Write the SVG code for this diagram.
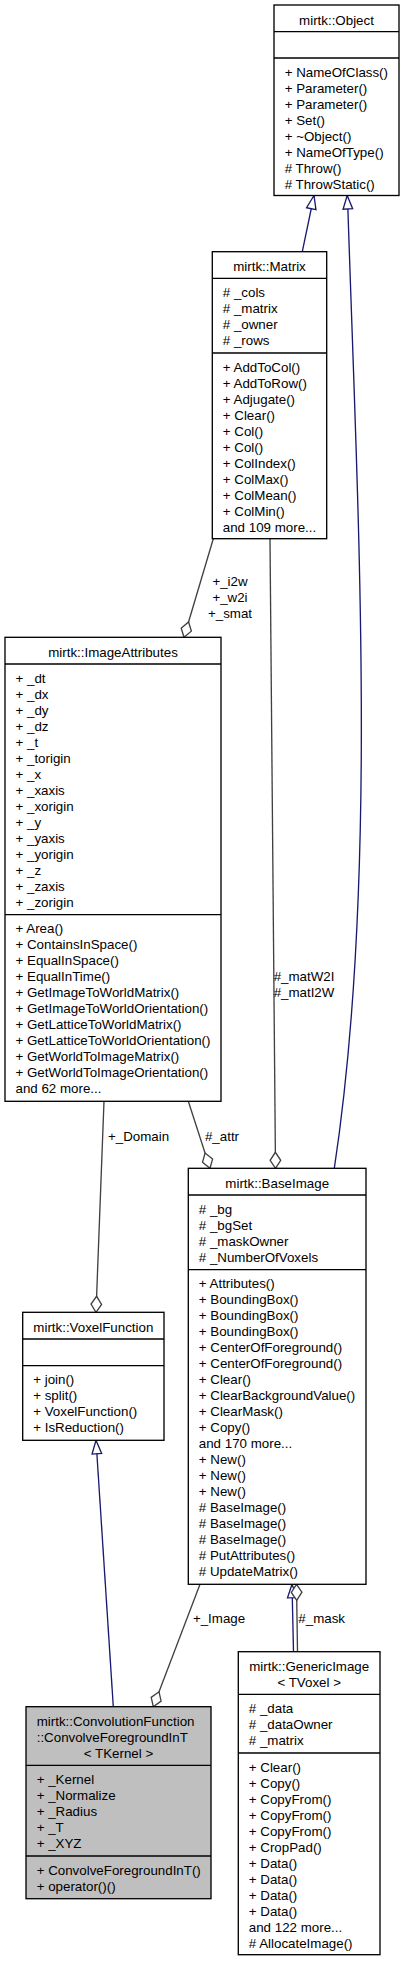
<svg xmlns="http://www.w3.org/2000/svg" width="404" height="1963" viewBox="0 0 404 1963">
<style>
text { font-family: "Liberation Sans", Arial, Helvetica, sans-serif; font-size: 13.33px; fill: #000; }
.c { text-anchor: middle; }
.box { fill: #fff; stroke: #000; stroke-width: 1.33; }
.focus { fill: #bfbfbf; }
.sep { stroke: #000; stroke-width: 1.33; }
.inh { fill: none; stroke: #191970; stroke-width: 1.33; marker-end: url(#tri); }
.agg { fill: none; stroke: #404040; stroke-width: 1.33; marker-end: url(#dia); }
</style>
<defs>
<marker id="tri" viewBox="-15 -7 16 14" refX="0" refY="0" markerWidth="16" markerHeight="14" markerUnits="userSpaceOnUse" orient="auto">
<path d="M0,0 L-13.5,-4.8 L-13.5,4.8 Z" fill="#fff" stroke="#191970" stroke-width="1.33"/>
</marker>
<marker id="dia" viewBox="-18 -7 19 14" refX="0" refY="0" markerWidth="19" markerHeight="14" markerUnits="userSpaceOnUse" orient="auto">
<path d="M0,0 L-8,-5.3 L-16,0 L-8,5.3 Z" fill="#fff" stroke="#404040" stroke-width="1.33"/>
</marker>
</defs>

<g id="connectors">
<path class="inh" d="M302.3,251.7 L314,195.5"/>
<path class="inh" d="M334.3,1168.3 C378,880 358,520 348,212 L347.2,195.5"/>
<path class="agg" d="M213.3,538.7 L184,637.3"/>
<path class="agg" d="M270,538.7 L275.5,1168.3"/>
<path class="agg" d="M188.3,1101.3 L210,1168.3"/>
<path class="agg" d="M104,1101.3 L96,1312.3"/>
<path class="inh" d="M113.3,1706.7 L96,1440.3"/>
<path class="agg" d="M200,1584.3 L153.3,1706.7"/>
<path class="inh" d="M293.5,1651.7 L292,1584.3"/>
<path class="agg" d="M297.5,1651.7 L296.5,1584.3"/>
<text class="c" x="230" y="586">+_i2w</text>
<text class="c" x="230" y="602">+_w2i</text>
<text class="c" x="230" y="618">+_smat</text>
<text class="c" x="304" y="981">#_matW2I</text>
<text class="c" x="304" y="997">#_matI2W</text>
<text class="c" x="222" y="1140.5">#_attr</text>
<text class="c" x="138.5" y="1140.5">+_Domain</text>
<text class="c" x="219" y="1622.5">+_Image</text>
<text class="c" x="321.7" y="1622.5">#_mask</text>
</g>

<g id="node-object">
<rect class="box" x="274" y="5" width="125" height="190.5"/>
<line class="sep" x1="274" y1="31.7" x2="399" y2="31.7"/>
<line class="sep" x1="274" y1="58" x2="399" y2="58"/>
<text class="c" x="336.5" y="24.5">mirtk::Object</text>
<text x="284.7" y="76.6">+ NameOfClass()</text>
<text x="284.7" y="92.6">+ Parameter()</text>
<text x="284.7" y="108.6">+ Parameter()</text>
<text x="284.7" y="124.6">+ Set()</text>
<text x="284.7" y="140.6">+ ~Object()</text>
<text x="284.7" y="156.6">+ NameOfType()</text>
<text x="284.7" y="172.6"># Throw()</text>
<text x="284.7" y="188.6"># ThrowStatic()</text>
</g>

<g id="node-matrix">
<rect class="box" x="212.3" y="251.7" width="114.4" height="287"/>
<line class="sep" x1="212.3" y1="278.3" x2="326.7" y2="278.3"/>
<line class="sep" x1="212.3" y1="353" x2="326.7" y2="353"/>
<text class="c" x="269.5" y="271">mirtk::Matrix</text>
<text x="222.8" y="296.9"># _cols</text>
<text x="222.8" y="312.9"># _matrix</text>
<text x="222.8" y="328.9"># _owner</text>
<text x="222.8" y="344.9"># _rows</text>
<text x="222.8" y="371.6">+ AddToCol()</text>
<text x="222.8" y="387.6">+ AddToRow()</text>
<text x="222.8" y="403.6">+ Adjugate()</text>
<text x="222.8" y="419.6">+ Clear()</text>
<text x="222.8" y="435.6">+ Col()</text>
<text x="222.8" y="451.6">+ Col()</text>
<text x="222.8" y="467.6">+ ColIndex()</text>
<text x="222.8" y="483.6">+ ColMax()</text>
<text x="222.8" y="499.6">+ ColMean()</text>
<text x="222.8" y="515.6">+ ColMin()</text>
<text x="222.8" y="531.6">and 109 more...</text>
</g>

<g id="node-imageattributes">
<rect class="box" x="5" y="637.3" width="216" height="464"/>
<line class="sep" x1="5" y1="664" x2="221" y2="664"/>
<line class="sep" x1="5" y1="914.7" x2="221" y2="914.7"/>
<text class="c" x="113" y="656.6">mirtk::ImageAttributes</text>
<text x="15.5" y="682.6">+ _dt</text>
<text x="15.5" y="698.6">+ _dx</text>
<text x="15.5" y="714.6">+ _dy</text>
<text x="15.5" y="730.6">+ _dz</text>
<text x="15.5" y="746.6">+ _t</text>
<text x="15.5" y="762.6">+ _torigin</text>
<text x="15.5" y="778.6">+ _x</text>
<text x="15.5" y="794.6">+ _xaxis</text>
<text x="15.5" y="810.6">+ _xorigin</text>
<text x="15.5" y="826.6">+ _y</text>
<text x="15.5" y="842.6">+ _yaxis</text>
<text x="15.5" y="858.6">+ _yorigin</text>
<text x="15.5" y="874.6">+ _z</text>
<text x="15.5" y="890.6">+ _zaxis</text>
<text x="15.5" y="906.6">+ _zorigin</text>
<text x="15.5" y="933.3">+ Area()</text>
<text x="15.5" y="949.3">+ ContainsInSpace()</text>
<text x="15.5" y="965.3">+ EqualInSpace()</text>
<text x="15.5" y="981.3">+ EqualInTime()</text>
<text x="15.5" y="997.3">+ GetImageToWorldMatrix()</text>
<text x="15.5" y="1013.3">+ GetImageToWorldOrientation()</text>
<text x="15.5" y="1029.3">+ GetLatticeToWorldMatrix()</text>
<text x="15.5" y="1045.3">+ GetLatticeToWorldOrientation()</text>
<text x="15.5" y="1061.3">+ GetWorldToImageMatrix()</text>
<text x="15.5" y="1077.3">+ GetWorldToImageOrientation()</text>
<text x="15.5" y="1093.3">and 62 more...</text>
</g>

<g id="node-baseimage">
<rect class="box" x="188.3" y="1168.3" width="177.7" height="416"/>
<line class="sep" x1="188.3" y1="1195" x2="366" y2="1195"/>
<line class="sep" x1="188.3" y1="1269.7" x2="366" y2="1269.7"/>
<text class="c" x="277.2" y="1187.6">mirtk::BaseImage</text>
<text x="198.8" y="1213.6"># _bg</text>
<text x="198.8" y="1229.6"># _bgSet</text>
<text x="198.8" y="1245.6"># _maskOwner</text>
<text x="198.8" y="1261.6"># _NumberOfVoxels</text>
<text x="198.8" y="1288.3">+ Attributes()</text>
<text x="198.8" y="1304.3">+ BoundingBox()</text>
<text x="198.8" y="1320.3">+ BoundingBox()</text>
<text x="198.8" y="1336.3">+ BoundingBox()</text>
<text x="198.8" y="1352.3">+ CenterOfForeground()</text>
<text x="198.8" y="1368.3">+ CenterOfForeground()</text>
<text x="198.8" y="1384.3">+ Clear()</text>
<text x="198.8" y="1400.3">+ ClearBackgroundValue()</text>
<text x="198.8" y="1416.3">+ ClearMask()</text>
<text x="198.8" y="1432.3">+ Copy()</text>
<text x="198.8" y="1448.3">and 170 more...</text>
<text x="198.8" y="1464.3">+ New()</text>
<text x="198.8" y="1480.3">+ New()</text>
<text x="198.8" y="1496.3">+ New()</text>
<text x="198.8" y="1512.3"># BaseImage()</text>
<text x="198.8" y="1528.3"># BaseImage()</text>
<text x="198.8" y="1544.3"># BaseImage()</text>
<text x="198.8" y="1560.3"># PutAttributes()</text>
<text x="198.8" y="1576.3"># UpdateMatrix()</text>
</g>

<g id="node-voxelfunction">
<rect class="box" x="22.7" y="1312.3" width="141.3" height="128"/>
<line class="sep" x1="22.7" y1="1339" x2="164" y2="1339"/>
<line class="sep" x1="22.7" y1="1365.7" x2="164" y2="1365.7"/>
<text class="c" x="93.35" y="1331.6">mirtk::VoxelFunction</text>
<text x="33.2" y="1384.3">+ join()</text>
<text x="33.2" y="1400.3">+ split()</text>
<text x="33.2" y="1416.3">+ VoxelFunction()</text>
<text x="33.2" y="1432.3">+ IsReduction()</text>
</g>

<g id="node-genericimage">
<rect class="box" x="238.3" y="1651.7" width="141.7" height="303"/>
<line class="sep" x1="238.3" y1="1694.3" x2="380" y2="1694.3"/>
<line class="sep" x1="238.3" y1="1753" x2="380" y2="1753"/>
<text class="c" x="309.2" y="1671">mirtk::GenericImage</text>
<text class="c" x="309.2" y="1687">&lt; TVoxel &gt;</text>
<text x="248.8" y="1712.9"># _data</text>
<text x="248.8" y="1728.9"># _dataOwner</text>
<text x="248.8" y="1744.9"># _matrix</text>
<text x="248.8" y="1771.6">+ Clear()</text>
<text x="248.8" y="1787.6">+ Copy()</text>
<text x="248.8" y="1803.6">+ CopyFrom()</text>
<text x="248.8" y="1819.6">+ CopyFrom()</text>
<text x="248.8" y="1835.6">+ CopyFrom()</text>
<text x="248.8" y="1851.6">+ CropPad()</text>
<text x="248.8" y="1867.6">+ Data()</text>
<text x="248.8" y="1883.6">+ Data()</text>
<text x="248.8" y="1899.6">+ Data()</text>
<text x="248.8" y="1915.6">+ Data()</text>
<text x="248.8" y="1931.6">and 122 more...</text>
<text x="248.8" y="1947.6"># AllocateImage()</text>
</g>

<g id="node-convolveforegroundint">
<rect class="box focus" x="26" y="1706.7" width="185" height="192"/>
<line class="sep" x1="26" y1="1765.3" x2="211" y2="1765.3"/>
<line class="sep" x1="26" y1="1856" x2="211" y2="1856"/>
<text x="36.7" y="1726">mirtk::ConvolutionFunction</text>
<text x="36.7" y="1742">::ConvolveForegroundInT</text>
<text class="c" x="118.5" y="1758">&lt; TKernel &gt;</text>
<text x="36.7" y="1783.9">+ _Kernel</text>
<text x="36.7" y="1799.9">+ _Normalize</text>
<text x="36.7" y="1815.9">+ _Radius</text>
<text x="36.7" y="1831.9">+ _T</text>
<text x="36.7" y="1847.9">+ _XYZ</text>
<text x="36.7" y="1874.6">+ ConvolveForegroundInT()</text>
<text x="36.7" y="1890.6">+ operator()()</text>
</g>
</svg>
